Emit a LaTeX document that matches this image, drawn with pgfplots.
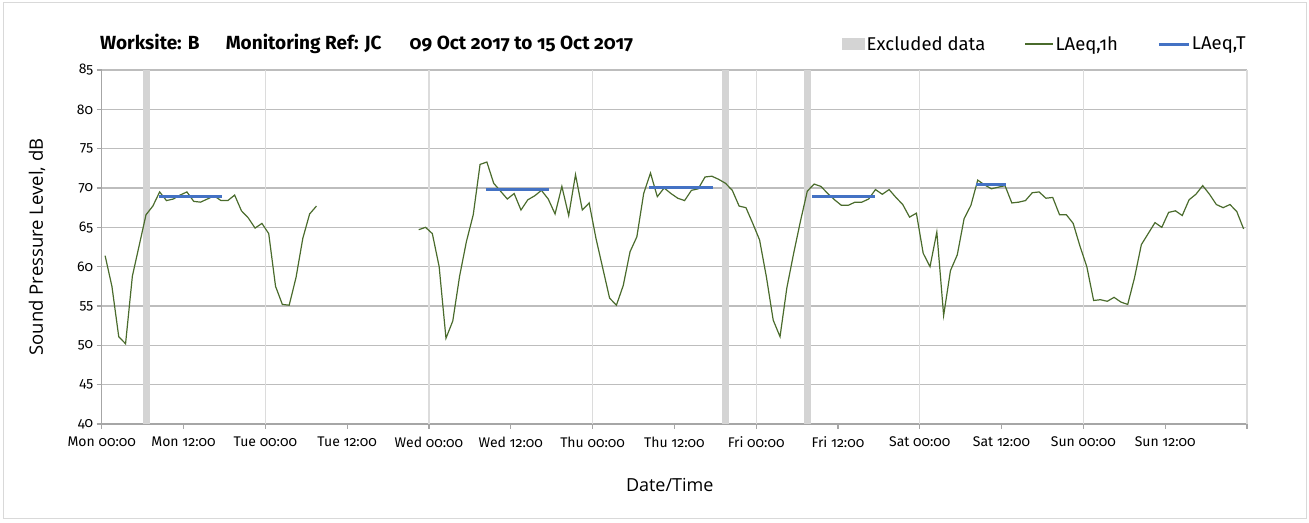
\documentclass[border=0pt]{standalone}
\usepackage{pgfplots}
\pgfplotsset{compat=1.18}
\usepackage{pgfplotstable}
\usepackage{fontspec}
\setmainfont{Fira Sans}[Numbers=OldStyle]
\newfontfamily\osfont{Open Sans}
\definecolor{lgreen}{HTML}{4A6B2C}
\definecolor{lblue}{HTML}{4472C4}
\definecolor{bandgray}{HTML}{D4D4D4}
\definecolor{hgrid}{HTML}{BDBDBD}
\definecolor{vgrid}{HTML}{DCDCDC}
\definecolor{axisgray}{HTML}{A6A6A6}

\pgfplotstableread{
x y
0.5 61.4
1.5 57.5
2.5 51.1
3.5 50.2
4.5 58.8
5.5 62.7
6.5 66.6
7.5 67.7
8.5 69.5
9.5 68.4
10.5 68.6
11.5 69.1
12.5 69.5
13.5 68.3
14.5 68.2
15.5 68.6
16.5 69.0
17.5 68.4
18.5 68.4
19.5 69.1
20.5 67.1
21.5 66.2
22.5 64.9
23.5 65.5
24.5 64.2
25.5 57.5
26.5 55.2
27.5 55.1
28.5 58.6
29.5 63.6
30.5 66.7
31.5 67.7
32.5 nan
46.5 64.7
47.5 65.0
48.5 64.2
49.5 60.0
50.5 50.9
51.5 53.1
52.5 58.8
53.5 63.2
54.5 66.6
55.5 73.0
56.5 73.3
57.5 70.6
58.5 69.6
59.5 68.6
60.5 69.3
61.5 67.2
62.5 68.5
63.5 69.0
64.5 69.7
65.5 68.6
66.5 66.7
67.5 70.2
68.5 66.5
69.5 71.7
70.5 67.2
71.5 68.1
72.5 63.6
73.5 59.8
74.5 56.0
75.5 55.1
76.5 57.6
77.5 61.9
78.5 63.8
79.5 69.3
80.5 71.9
81.5 68.9
82.5 70.0
83.5 69.3
84.5 68.7
85.5 68.4
86.5 69.7
87.5 69.9
88.5 71.4
89.5 71.5
90.5 71.1
91.5 70.6
92.5 69.7
93.5 67.7
94.5 67.5
95.5 65.5
96.5 63.4
97.5 58.7
98.5 53.2
99.5 51.1
100.5 57.3
101.5 61.7
102.5 65.8
103.5 69.6
104.5 70.5
105.5 70.2
106.5 69.3
107.5 68.5
108.5 67.8
109.5 67.8
110.5 68.2
111.5 68.2
112.5 68.6
113.5 69.8
114.5 69.2
115.5 69.8
116.5 68.8
117.5 67.9
118.5 66.3
119.5 66.8
120.5 61.7
121.5 60.0
122.5 64.4
123.5 53.8
124.5 59.5
125.5 61.5
126.5 66.1
127.5 67.8
128.5 71.0
129.5 70.4
130.5 69.9
131.5 70.1
132.5 70.3
133.5 68.1
134.5 68.2
135.5 68.4
136.5 69.4
137.5 69.5
138.5 68.7
139.5 68.8
140.5 66.6
141.5 66.6
142.5 65.5
143.5 62.6
144.5 60.0
145.5 55.7
146.5 55.8
147.5 55.6
148.5 56.1
149.5 55.5
150.5 55.2
151.5 58.6
152.5 62.8
153.5 64.2
154.5 65.6
155.5 65.0
156.5 66.9
157.5 67.1
158.5 66.5
159.5 68.5
160.5 69.2
161.5 70.3
162.5 69.2
163.5 67.9
164.5 67.5
165.5 67.9
166.5 67.0
167.5 64.8
}\laeqh

\begin{document}
\begin{tikzpicture}
\useasboundingbox (0pt,0pt) rectangle (1309pt,522pt);
\draw[draw=black!15, line width=1pt] (3pt,3pt) rectangle (1306pt,519pt);
\node[anchor=base west, inner sep=0pt, font=\bfseries\fontsize{19}{22}\selectfont] at (100pt,472pt) {Worksite: B};
\node[anchor=base west, inner sep=0pt, font=\bfseries\fontsize{19}{22}\selectfont] at (225.6pt,472pt) {Monitoring Ref: JC};
\node[anchor=base west, inner sep=0pt, font=\bfseries\fontsize{19}{22}\selectfont] at (409.5pt,472pt) {09 Oct 2017 to 15 Oct 2017};
\begin{axis}[
  at={(101.7pt,98pt)}, anchor=south west,
  scale only axis, width=1145.3pt, height=354pt,
  xmin=0, xmax=168, ymin=40, ymax=85,
  axis lines*=left,
  axis line style={draw=axisgray, line width=1.6pt},
  xtick={0,12,...,168},
  xticklabels={Mon 00:00, Mon 12:00, Tue 00:00, Tue 12:00, Wed 00:00, Wed 12:00, Thu 00:00, Thu 12:00, Fri 00:00, Fri 12:00, Sat 00:00, Sat 12:00, Sun 00:00, Sun 12:00, {}},
  ytick={40,45,...,85},
  tick align=outside,
  major tick length=5pt,
  tick style={draw=axisgray, line width=1.2pt},
  ymajorgrids,
  major grid style={draw=hgrid, line width=1.3pt},
  extra x ticks={24,48,72,96,120,144,168},
  extra x tick labels={},
  extra x tick style={xmajorgrids=true, major grid style={draw=vgrid, line width=1.3pt}, major tick length=0pt},
  /pgf/number format/assume math mode=true,
  tick label style={font=\fontsize{14}{17}\selectfont, text=black},
  xticklabel style={yshift=-4pt},
  xlabel={Date/Time},
  ylabel={Sound Pressure Level, dB},
  every axis x label/.style={at={(axis description cs:0.496,-0.172)}, anchor=center, font=\osfont\fontsize{18}{21}\selectfont},
  every axis y label/.style={at={(axis description cs:-0.0565,0.5)}, anchor=center, rotate=90, font=\osfont\fontsize{18.5}{21}\selectfont},
  unbounded coords=jump,
  legend columns=3,
  legend style={draw=none, fill=none, inner sep=0pt, at={(axis description cs:0.6464,1.0734)}, anchor=west,
    font=\fontsize{18.5}{22}\selectfont, nodes={inner xsep=1.5pt, inner ysep=0pt},
    /tikz/every even column/.append style={column sep=38pt}},
  legend cell align=left,
]
\addplot[fill=bandgray, draw=none, legend image code/.code={\fill[bandgray] (0pt,-6pt) rectangle (23pt,6pt);}] coordinates {(6.1,40) (6.1,85) (7.1,85) (7.1,40)} -- cycle;
\addlegendentry{Excluded data}
\addplot[fill=bandgray, draw=none, forget plot] coordinates {(91.0,40) (91.0,85) (92.0,85) (92.0,40)} -- cycle;
\addplot[fill=bandgray, draw=none, forget plot] coordinates {(103.0,40) (103.0,85) (104.0,85) (104.0,40)} -- cycle;
\addplot[lgreen, line width=1.2pt, legend image code/.code={\draw[lgreen, line width=1.2pt] (0pt,0pt) -- (28pt,0pt);}] table[x=x, y=y] {\laeqh};
\addlegendentry{LAeq,1h}
\addplot[lblue, line width=3pt, legend image code/.code={\draw[lblue, line width=3pt] (0pt,0pt) -- (30pt,0pt);}] coordinates {(8.4,68.9) (17.7,68.9)};
\addlegendentry{LAeq,T}
\addplot[lblue, line width=3pt, forget plot] coordinates {(56.3,69.8) (65.6,69.8)};
\addplot[lblue, line width=3pt, forget plot] coordinates {(80.3,70.1) (89.6,70.1)};
\addplot[lblue, line width=3pt, forget plot] coordinates {(104.2,68.9) (113.5,68.9)};
\addplot[lblue, line width=3pt, forget plot] coordinates {(128.3,70.4) (132.6,70.4)};
\end{axis}
\end{tikzpicture}
\end{document}
